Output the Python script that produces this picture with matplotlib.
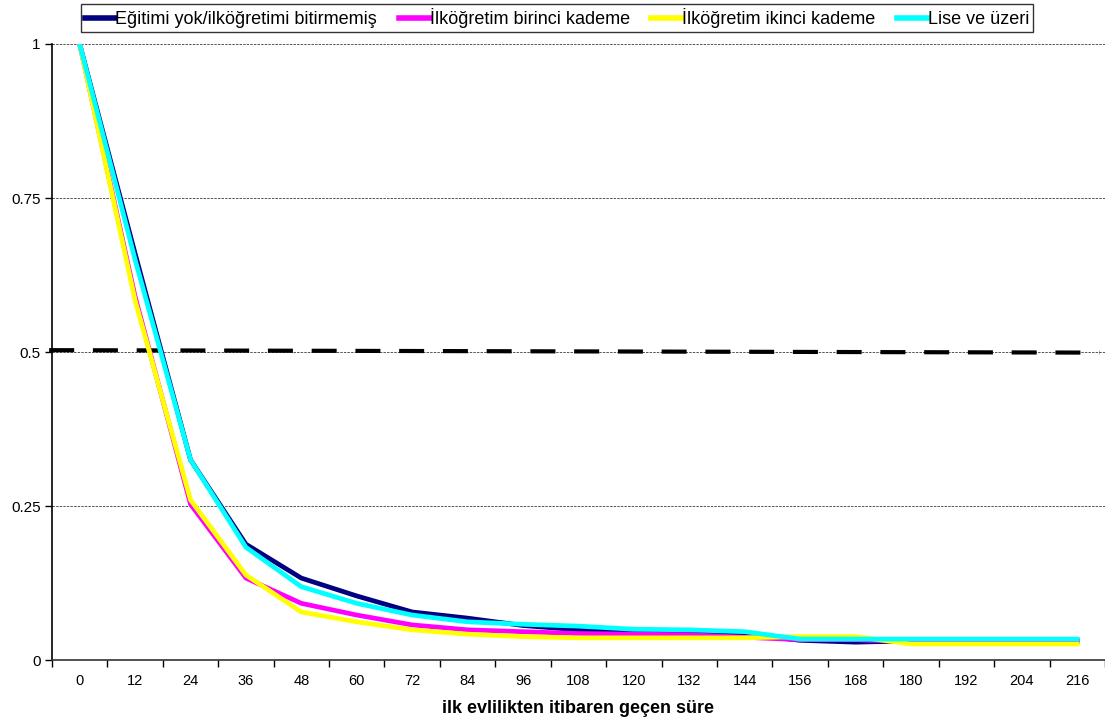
import matplotlib
matplotlib.use("Agg")
import matplotlib.pyplot as plt
from matplotlib.ticker import FixedLocator, NullFormatter

plt.rcParams['font.family'] = ['Liberation Sans', 'DejaVu Sans']

months = [0, 12, 24, 36, 48, 60, 72, 84, 96, 108, 120, 132, 144, 156, 168, 180, 192, 204, 216]

egitimi_yok = [1.0, 0.66, 0.325, 0.188, 0.133, 0.104, 0.078, 0.068, 0.056, 0.049, 0.044, 0.043, 0.042, 0.032, 0.029, 0.031, 0.031, 0.031, 0.031]
ilk_birinci = [1.0, 0.59, 0.253, 0.133, 0.092, 0.073, 0.057, 0.049, 0.046, 0.043, 0.042, 0.041, 0.037, 0.033, 0.033, 0.030, 0.030, 0.030, 0.030]
ilk_ikinci = [1.0, 0.584, 0.260, 0.138, 0.078, 0.062, 0.049, 0.042, 0.038, 0.036, 0.036, 0.036, 0.036, 0.038, 0.038, 0.026, 0.026, 0.026, 0.026]
lise = [1.0, 0.65, 0.325, 0.183, 0.119, 0.092, 0.073, 0.062, 0.058, 0.055, 0.050, 0.049, 0.046, 0.034, 0.034, 0.034, 0.034, 0.034, 0.034]

series_names = ["Eğitimi yok/ilköğretimi bitirmemiş", "İlköğretim birinci kademe",
                "İlköğretim ikinci kademe", "Lise ve üzeri"]
series_colors = ["#000080", "#FF00FF", "#FFFF00", "#00FFFF"]

median_ref = [0.503, 0.499]
y_ticks = [0, 0.25, 0.5, 0.75, 1]
y_tick_labels = ["0", "0.25", "0.5", "0.75", "1"]
x_label = "ilk evlilikten itibaren geçen süre"

fig = plt.figure(figsize=(11.05, 7.2), dpi=100)
ax = fig.add_axes([0.047, 0.0833, 0.953, 0.8556])

x = list(range(len(months)))

for yv in y_ticks[1:]:
    ax.axhline(yv, color="#555555", lw=0.7, ls=(0, (2.5, 1.2)), zorder=1)

ax.plot([-0.55, len(months) - 0.6], median_ref, color="black", lw=3.0,
        ls=(0, (6, 4.5)), zorder=2, clip_on=False)

handles = []
for vals, name, col in zip([egitimi_yok, ilk_birinci, ilk_ikinci, lise], series_names, series_colors):
    h, = ax.plot(x, vals, color=col, lw=3.4, label=name, zorder=3, solid_joinstyle="miter")
    handles.append(h)

ax.set_xlim(-0.5, len(months) - 0.5)
ax.set_ylim(0, 1)

ax.set_xticks(x)
ax.set_xticklabels([str(m) for m in months], fontsize=10.5)
ax.tick_params(axis="x", which="major", length=0, pad=10)
ax.xaxis.set_minor_locator(FixedLocator([i - 0.5 for i in range(len(months) + 1)]))
ax.xaxis.set_minor_formatter(NullFormatter())
ax.tick_params(axis="x", which="minor", length=5, width=1, direction="out", color="black")

ax.set_yticks(y_ticks)
ax.set_yticklabels(y_tick_labels, fontsize=11)
ax.tick_params(axis="y", length=5, width=1, direction="out", pad=3)

for s in ["top", "right"]:
    ax.spines[s].set_visible(False)
ax.spines["left"].set_linewidth(1.2)
ax.spines["bottom"].set_linewidth(1.2)
ax.spines["bottom"].set_color("#333333")

ax.set_xlabel(x_label, fontsize=13, fontweight="bold", labelpad=9)

leg = fig.legend(handles=handles, loc="upper center", bbox_to_anchor=(0.504, 0.994),
                 ncol=4, fontsize=13, frameon=True, fancybox=False,
                 edgecolor="black", handlelength=1.7, handletextpad=0.0,
                 borderpad=0.2, columnspacing=1.2, borderaxespad=0)
leg.get_frame().set_linewidth(1.0)
for lh in leg.get_lines():
    lh.set_linewidth(4)

fig.savefig("out.png", dpi=100)
